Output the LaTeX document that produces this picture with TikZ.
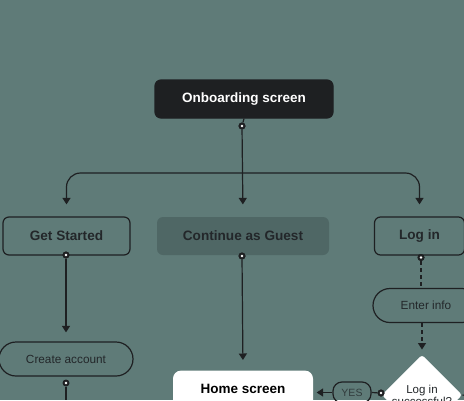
\documentclass[tikz,border=0pt]{standalone}
\usepackage{fontspec}
\setmainfont{Liberation Sans}
\usetikzlibrary{arrows.meta,shapes.geometric,calc}
\definecolor{bgc}{HTML}{5F7B78}
\definecolor{dark}{HTML}{1E2022}
\definecolor{guestc}{HTML}{4F6765}
\definecolor{txt}{HTML}{23272A}
\tikzset{
  box/.style={draw=dark,line width=1.2pt,rounded corners=6pt,minimum height=38pt,inner sep=0pt,text=txt,font=\bfseries\fontsize{13.6}{15}\selectfont},
  pill/.style={draw=dark,line width=1.2pt,rounded corners=17pt,minimum height=34pt,inner sep=0pt,text=txt,font=\fontsize{11.8}{13}\selectfont},
  conn/.style={draw=dark,line width=1.2pt},
  arr/.style={conn,-{Triangle[length=6.5pt,width=8pt]}},
  darr/.style={arr,dash pattern=on 4pt off 3pt},
  cdot/.style={circle,fill=dark,inner sep=0pt,minimum size=7pt,path picture={\fill[white] (path picture bounding box.center) circle (1.3pt);}},
}
\begin{document}
\begin{tikzpicture}[x=1pt,y=-1pt]
\fill[bgc] (0,0) rectangle (464,400);
\useasboundingbox (0,0) rectangle (464,400);
% nodes
\node[box,fill=dark,draw=dark,text=white,minimum width=178pt,font=\bfseries\fontsize{13.5}{15}\selectfont] (onb) at (244,99) {Onboarding screen};
\node[box,minimum width=127pt] (gs) at (66.5,236) {Get Started};
\node[box,draw=none,fill=guestc,minimum width=172pt] (guest) at (243,236) {Continue as Guest};
\node[box,minimum width=90pt] (login) at (419.5,236) {Log in};
\node[pill,minimum width=134pt] (ca) at (66,359) {Create account};
\node[pill,minimum width=106pt] (ei) at (426,305.5) {Enter info};
\node[box,draw=none,fill=white,minimum width=140pt,minimum height=60pt,rounded corners=8pt,anchor=north,text=black,font=\bfseries\fontsize{13.5}{15}\selectfont,text depth=23pt] (home) at (243,370) {Home screen};
\node[diamond,fill=white,minimum width=80pt,minimum height=80pt,inner sep=0pt,rounded corners=3pt,align=center,text=txt,font=\fontsize{11.5}{12}\selectfont] (dia) at (422,395) {Log in\\successful?};
\node[draw=dark,line width=1.2pt,rounded corners=9pt,minimum width=38pt,minimum height=21pt,inner sep=0pt,text=txt!75!bgc,font=\fontsize{10.5}{12}\selectfont] (yes) at (352,392.5) {YES};
% dots
\node[cdot] (d0) at (242,126) {};
\node[cdot] (dgs) at (66,255) {};
\node[cdot] (dgu) at (242,256) {};
\node[cdot] (dli) at (421,257.5) {};
\node[cdot] (dca) at (66,383) {};
\node[cdot] (ddia) at (381,393) {};
\coordinate (br) at (242,173);
\coordinate (cabot) at (66,400);
\coordinate (noend) at (470,396);
% connectors
\draw[conn] (onb.south) -- (d0);
\draw[arr,shorten >=12pt] (d0) -- (guest.north);
\draw[arr,rounded corners=14pt,shorten >=12pt] (br) -| (gs.north);
\draw[arr,rounded corners=14pt,shorten >=12pt] (br) -| (login.north);
\draw[arr,shorten >=9pt] (dgs) -- (ca.north);
\draw[conn] (dca) -- (cabot);
\draw[arr,shorten >=10pt] (dgu) -- (home.north);
\draw[conn,dash pattern=on 4pt off 3pt] (dli) -- (dli |- ei.north);
\draw[darr,shorten >=5pt] (ei.south -| dia.north) -- (dia.north);
\draw[conn] (ddia) -- (yes.east);
\draw[arr,shorten >=3pt] (yes.west) -- (home.east |- yes.west);
\draw[conn,dash pattern=on 3pt off 3pt] (dia.east) -- (noend);
\node[cdot] at (ddia) {};
\node[cdot] at (dli) {};
\node[cdot] at (d0) {};
\node[cdot] at (dgs) {};
\node[cdot] at (dgu) {};
\end{tikzpicture}
\end{document}
